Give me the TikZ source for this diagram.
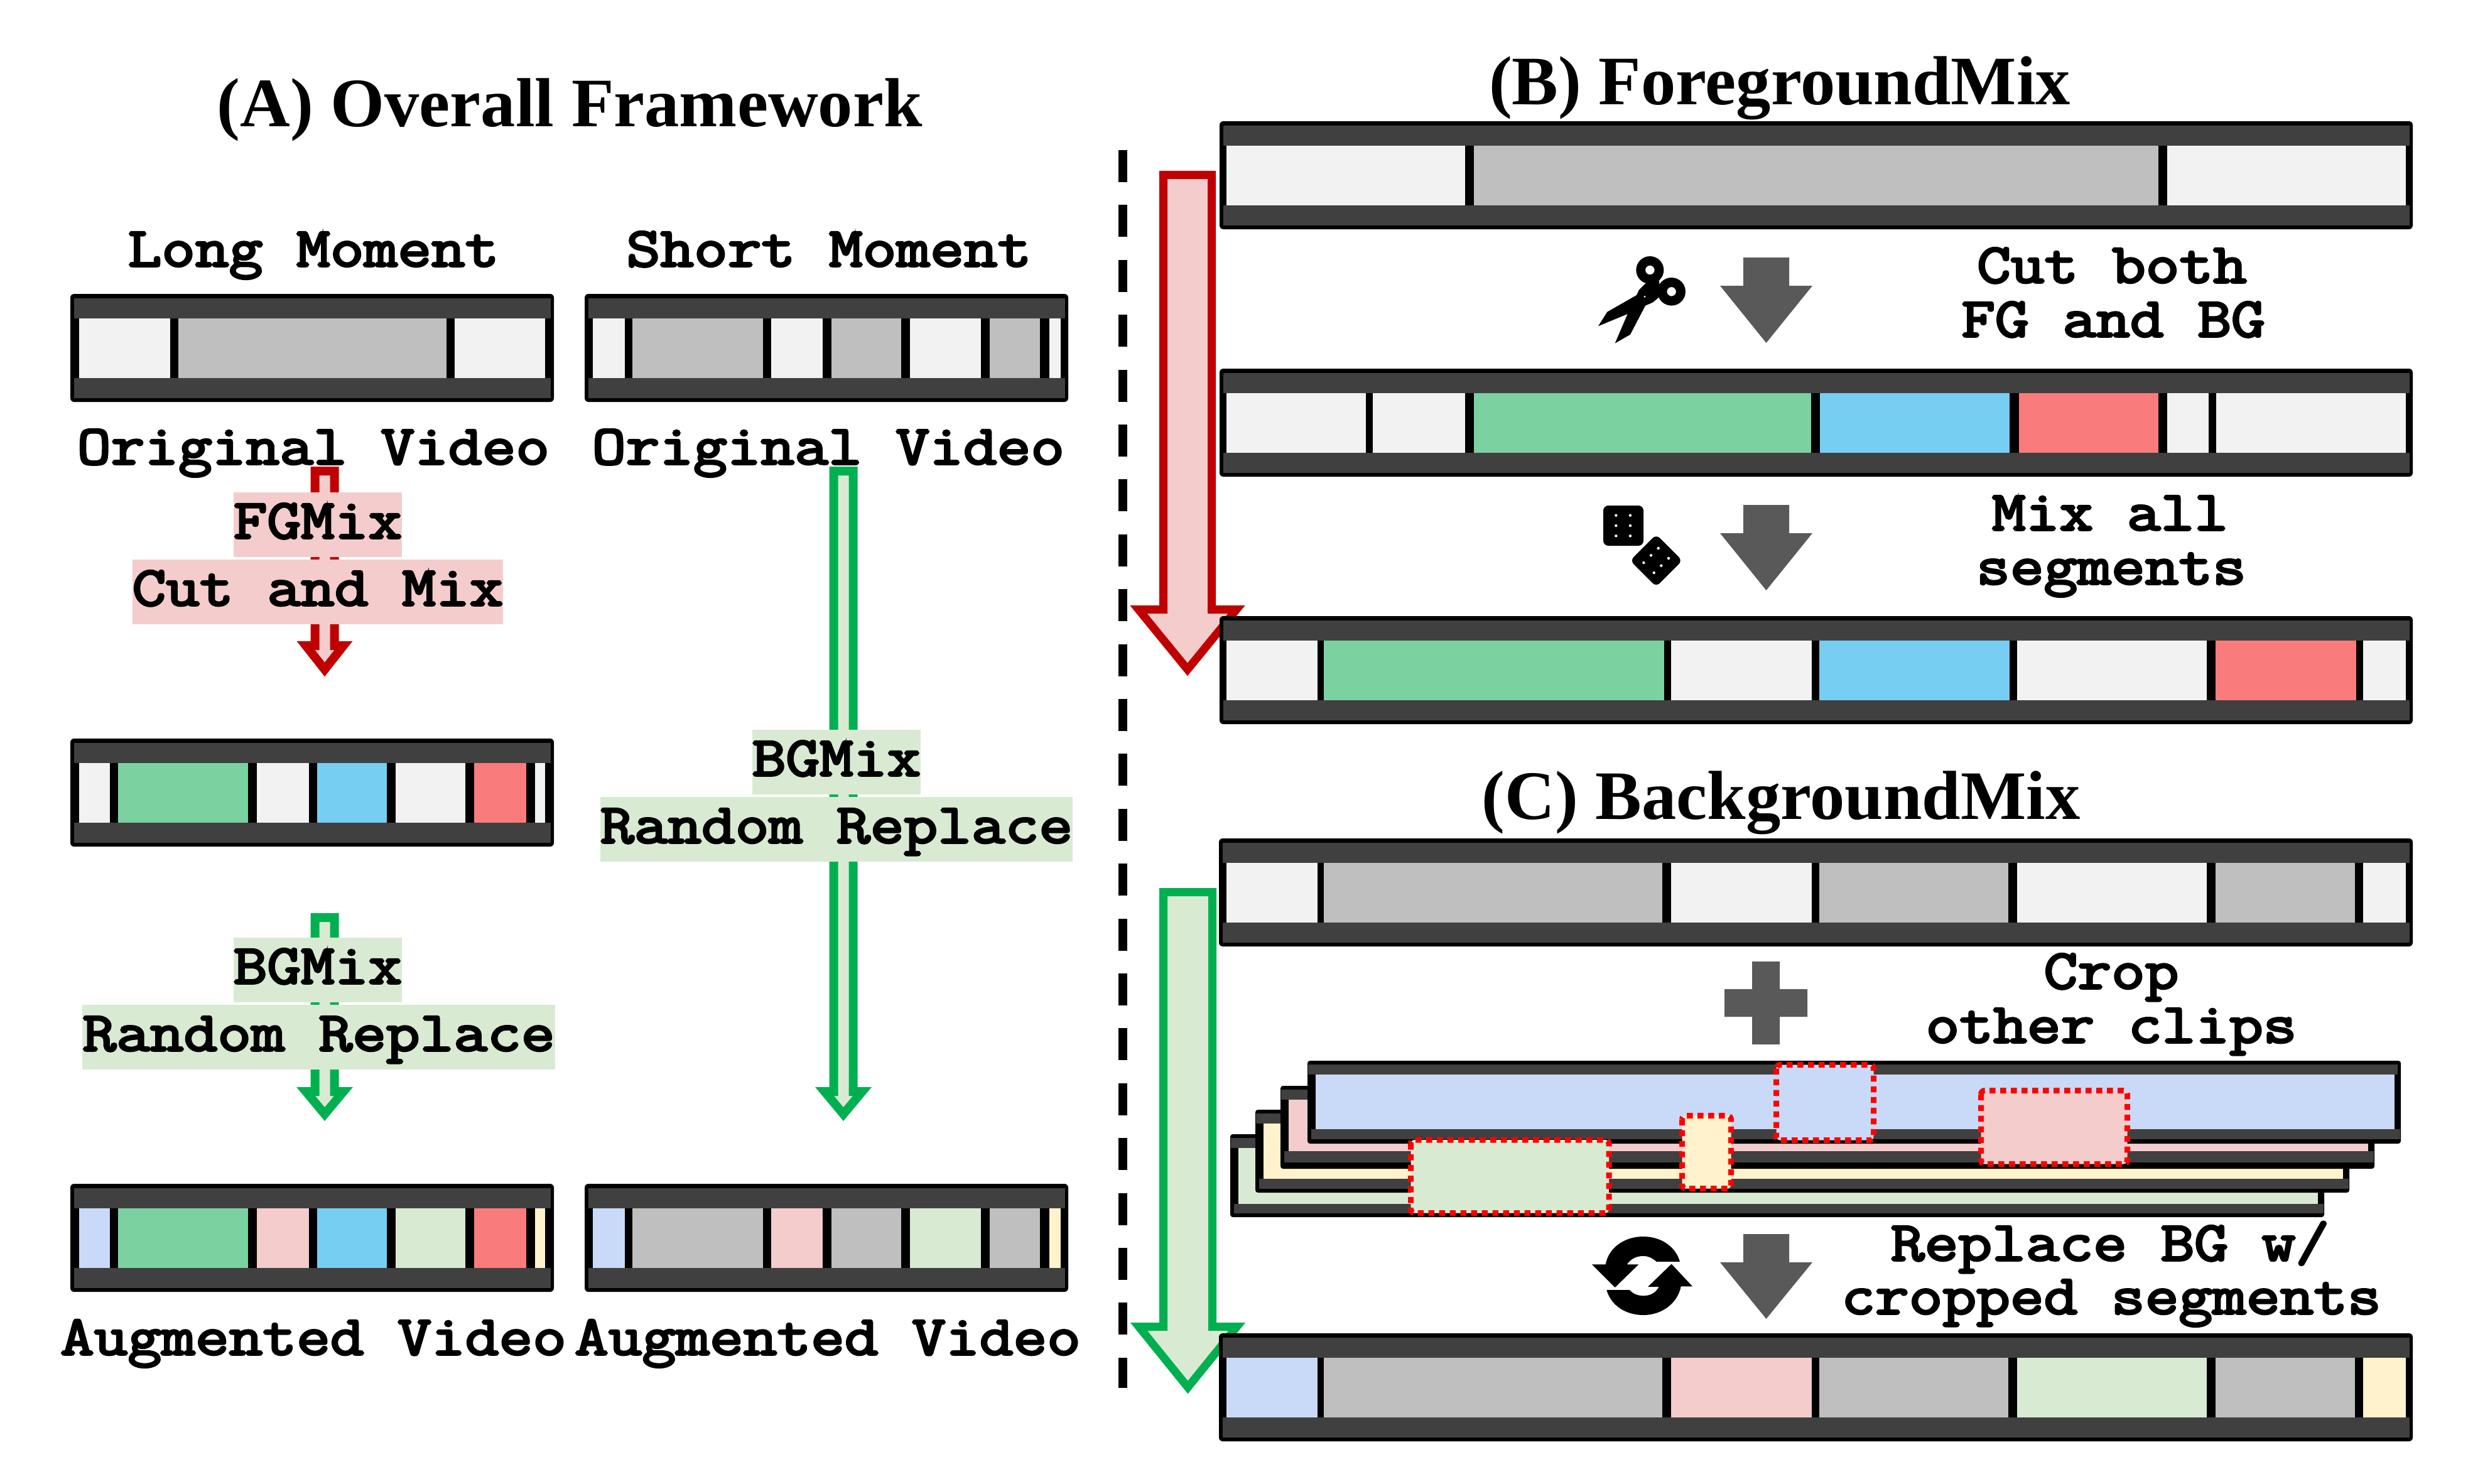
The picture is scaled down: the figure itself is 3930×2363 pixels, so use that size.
\documentclass[tikz,border=0pt]{standalone}
\usepackage{fontspec}
\setmainfont{Liberation Serif}
\newfontfamily\monob{Latin Modern Mono}[FakeBold=4,FakeStretch=1.172]
\definecolor{dk}{HTML}{404040}
\definecolor{lt}{HTML}{F2F2F2}
\definecolor{gy}{HTML}{BFBFBF}
\definecolor{gn}{HTML}{7BD1A0}
\definecolor{bl}{HTML}{76CEF3}
\definecolor{rd}{HTML}{F97B7B}
\definecolor{lb}{HTML}{C9DAF8}
\definecolor{pk}{HTML}{F4CCCC}
\definecolor{lg}{HTML}{D9EAD3}
\definecolor{cr}{HTML}{FFF2CC}
\definecolor{arrowred}{HTML}{C00000}
\definecolor{arrowgreen}{HTML}{00B050}
\definecolor{stepgray}{HTML}{595959}
\tikzset{
  monotext/.style={inner sep=0pt,anchor=base,font=\monob\fontsize{89}{89}\selectfont},
  titletext/.style={inner sep=0pt,anchor=base,font=\bfseries\fontsize{110.5}{110.5}\selectfont},
  tagpink/.style={monotext,fill=pk,text height=73pt,text depth=30pt},
  taggreen/.style={monotext,fill=lg,text height=73pt,text depth=30pt},
  redframe/.style={draw=arrowred,fill=pk,line width=14pt,miter limit=10},
  greenframe/.style={draw=arrowgreen,fill=lg,line width=14pt,miter limit=10},
  cropbox/.style={draw=red,line width=9pt,dash pattern=on 9.5pt off 7.5pt,rounded corners=6pt},
}
% #1 x-left, #2 x-right, #3 y-top, #4 segments xa/xb/colour
\newcommand\clipbar[4]{
  \fill[black,rounded corners=6pt] ({#1-2},{#3-1}) rectangle ({#2+1},{#3+171});
  \fill[dk] ({#1+4},{#3+6}) rectangle ({#2-4},{#3+38});
  \fill[dk] ({#1+4},{#3+133}) rectangle ({#2-4},{#3+165});
  \foreach \xa/\xb/\cc in {#4}{
    \fill[\cc] (\xa,{#3+38}) rectangle (\xb,{#3+133});
  }
}
% #1 x-left, #2 x-right, #3 y-top, #4 colour, #5 band top offset, #6 band bottom offset
\newcommand\stackclip[6]{
  \fill[black,rounded corners=4pt] (#1,#3) rectangle (#2,{#3+132});
  \fill[dk] ({#1+1},{#3+6}) rectangle ({#2-5},{#3+22});
  \fill[#4] ({#1+13},{#3+22}) rectangle ({#2-10},{#3+#5});
  \fill[dk] ({#1+6},{#3+#5}) rectangle ({#2-1},{#3+#6});
}
% #1 style, #2 centre x, #3 half shaft, #4 half head, #5 top, #6 shoulder, #7 tip
\newcommand\blockarrow[7]{
  \draw[#1] ({#2-#3},#5) -- ({#2+#3},#5) -- ({#2+#3},#6) -- ({#2+#4},#6) -- (#2,#7)
     -- ({#2-#4},#6) -- ({#2-#3},#6) -- cycle;
}
% #1 top, #2 shoulder, #3 tip
\newcommand\stepdown[3]{
  \fill[stepgray] (2776,#1) -- (2849,#1) -- (2849,#2) -- (2886,#2) -- (2812.5,#3) -- (2739,#2) -- (2776,#2) -- cycle;
}
\begin{document}
\begin{tikzpicture}[x=1pt,y=-1pt]
\useasboundingbox (0,0) rectangle (3930,2363);
\fill[white] (0,0) rectangle (3930,2363);

% divider
\draw[black,line width=13.5pt,dash pattern=on 51pt off 36.4pt] (1788,239) -- (1788,2210);

% big arrows (behind the bars)
\blockarrow{redframe,line width=13pt}{1891}{38.5}{78}{278.5}{970.5}{1066}
\blockarrow{greenframe,line width=13pt}{1891.5}{39}{78}{1420.5}{2112.5}{2209}

% small arrows
\blockarrow{redframe}{517}{15.5}{30}{750}{1028}{1066}
\blockarrow{greenframe}{1343}{15.5}{30}{750}{1738}{1774}
\blockarrow{greenframe}{517}{15.5}{30}{1461}{1738}{1774}

% titles
\node[titletext] (ta) at (907,201) {(A) Overall Framework};
\node[titletext] (tb) at (2834,166) {(B) ForegroundMix};
\node[titletext] (tc) at (2836,1304) {(C) BackgroundMix};

% left column
\node[monotext] (lm) at (499,424) {Long Moment};
\node[monotext] (sm) at (1320,424) {Short Moment};
\node[monotext] (ov1) at (499,739) {Original Video};
\node[monotext] (ov2) at (1319,739) {Original Video};
\node[monotext] (av1) at (499,2157) {Augmented Video};
\node[monotext] (av2) at (1318,2157) {Augmented Video};

\clipbar{114}{881}{469}{126/271/lt,284/711/gy,724/868/lt}
\clipbar{933}{1700}{469}{944/995/lt,1007/1215/gy,1228/1310/lt,1324/1435/gy,1449/1562/lt,1576/1656/gy,1671/1689/lt}
\clipbar{114}{881}{1177}{126/175/lt,188/395/gn,409/492/lt,505/616/bl,630/741/lt,755/838/rd,852/868/lt}
\clipbar{114}{881}{1886}{126/175/lb,188/395/gn,409/492/pk,505/616/bl,630/741/lg,755/838/rd,852/868/cr}
\clipbar{933}{1700}{1886}{944/995/lb,1007/1215/gy,1228/1310/pk,1324/1435/gy,1449/1562/lg,1576/1656/gy,1671/1689/cr}

\node[tagpink] (fg) at (506,857) {FGMix};
\node[tagpink] (cm) at (506,964) {Cut and Mix};
\node[taggreen] (bg1) at (506,1566) {BGMix};
\node[taggreen] (rr1) at (507.5,1673) {Random Replace};
\node[taggreen] (bg2) at (1332,1235) {BGMix};
\node[taggreen] (rr2) at (1332,1342) {Random Replace};

% panel B
\clipbar{1944}{3841}{194}{1953/2333/lt,2347/3437/gy,3451/3831/lt}
\clipbar{1944}{3841}{588}{1953/2175/lt,2186/2333/lt,2347/2884/gn,2898/3200/bl,3215/3437/rd,3451/3517/lt,3529/3831/lt}
\clipbar{1944}{3841}{982}{1953/2098/lt,2108/2650/gn,2661/2885/lt,2897/3200/bl,3212/3514/lt,3528/3752/rd,3763/3831/lt}
\stepdown{410}{455}{546}
\stepdown{804}{849}{940}
\node[monotext] (c1) at (3363,450) {Cut both};
\node[monotext] (c2) at (3365,536) {FG and BG};
\node[monotext] (m1) at (3360,844) {Mix all};
\node[monotext] (m2) at (3362,930) {segments};

% scissors
\begin{scope}[shift={(2520,390)},x=0.3333pt,y=-0.3333pt]
  \fill[black,even odd rule] (322,120) circle[radius=22pt] (322,120) circle[radius=7.3pt];
  \fill[black,even odd rule] (425,223) circle[radius=22.3pt] (425,223) circle[radius=7.3pt];
  \fill[black,even odd rule] (300,185) -- (270,215) -- (258,240) -- (118,320) -- (75,388) -- (215,330)
     -- (155,470) -- (228,428) -- (300,290) -- (335,275) -- (365,250) -- (372,215) -- (365,170) -- (340,170) -- cycle
     (297,247) circle[radius=1.8pt];
\end{scope}

% dice
\begin{scope}[shift={(2530,790)},x=0.3333pt,y=-0.3333pt]
  \fill[black,rounded corners=8pt] (69,45) rectangle (261,237);
  \fill[black,rounded corners=8pt] (197,308) -- (322,183) -- (447,308) -- (322,433) -- cycle;
  \foreach \px/\py in {130/92,198/92,130/141,198/141,130/190,198/190,
     332/249,297/283,262/318,381/297,346/332,311/366}{
    \fill[white] (\px,\py) circle[radius=2.2pt];
  }
\end{scope}

% panel C
\clipbar{1943}{3841}{1336}{1953/2098/lt,2108/2647/gy,2661/2885/lt,2897/3198/gy,3212/3514/lt,3528/3750/gy,3763/3831/lt}
\fill[stepgray] (2790,1531) -- (2834,1531) -- (2834,1575) -- (2878,1575) -- (2878,1619) -- (2834,1619)
   -- (2834,1663) -- (2790,1663) -- (2790,1619) -- (2746,1619) -- (2746,1575) -- (2790,1575) -- cycle;
\node[monotext] (cr1) at (3362,1574) {Crop};
\node[monotext] (cr2) at (3362,1660) {other clips};

\stackclip{1959}{3701}{1806}{lg}{111}{126}
\stackclip{1999}{3741}{1767}{cr}{110}{126}
\stackclip{2039}{3781}{1729}{pk}{104}{122}
\stackclip{2082}{3823}{1689}{lb}{109}{125}

\draw[cropbox,fill=lg] (2246.5,1815) rectangle (2562,1931.5);
\draw[cropbox,fill=cr] (2678.5,1776.5) rectangle (2756.5,1892.5);
\draw[cropbox,fill=lb] (2828.5,1695.5) rectangle (2983.5,1815.5);
\draw[cropbox,fill=pk] (3154.5,1736.5) rectangle (3387.5,1853.5);

\stepdown{1965}{2010}{2100}
\node[monotext] (r1) at (3360,2007) {Replace BG w/};
\node[monotext] (r2) at (3362,2092) {cropped segments};

% sync icon
\begin{scope}[shift={(2520,1950)},x=0.3333pt,y=-0.3333pt]
  \fill[black] (45,190) -- (110,190) .. controls (125,110) and (200,57) .. (290,57)
     .. controls (375,57) and (445,105) .. (465,177) -- (353,177)
     .. controls (335,160) and (315,150) .. (290,150) .. controls (255,150) and (230,165) .. (212,190)
     -- (268,190) -- (155,300) -- cycle;
  \fill[black] (525,295) -- (470,295) .. controls (455,375) and (380,432) .. (290,432)
     .. controls (205,432) and (135,385) .. (115,312) -- (225,312)
     .. controls (240,330) and (265,340) .. (290,340) .. controls (325,340) and (350,325) .. (365,297)
     -- (312,297) -- (425,188) -- cycle;
\end{scope}

\clipbar{1943}{3841}{2124}{1953/2098/lb,2108/2647/gy,2661/2885/pk,2897/3198/gy,3212/3514/lg,3528/3750/gy,3763/3831/cr}
\end{tikzpicture}
\end{document}
